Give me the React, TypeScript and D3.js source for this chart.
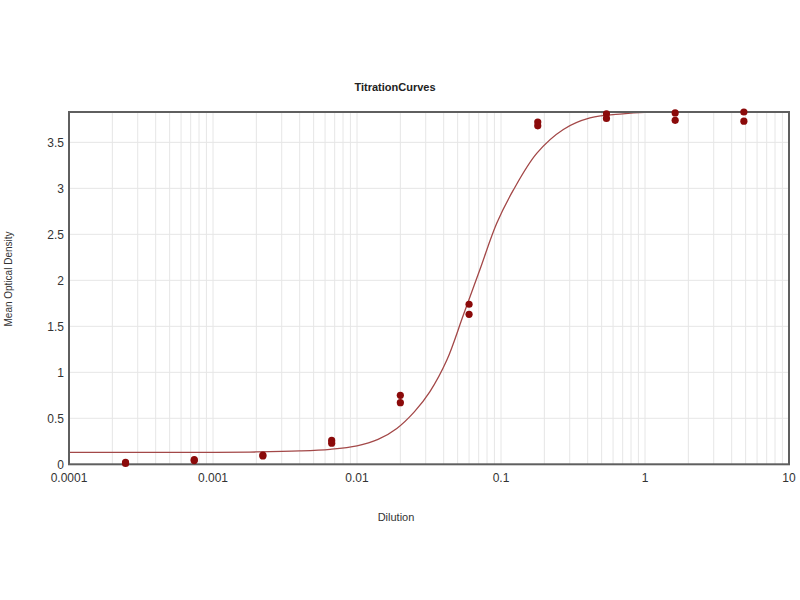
import React from "react";
import * as d3 from "d3";

// Dilution of each sample (3-fold series)
const dilutions = [0.000247, 0.000741, 0.00222, 0.00667, 0.02, 0.06, 0.18, 0.54, 1.62, 4.86];
// Mean optical density, replicate 1 and replicate 2
const replicate1 = [0.01, 0.04, 0.1, 0.26, 0.75, 1.74, 3.72, 3.81, 3.82, 3.83];
const replicate2 = [0.02, 0.05, 0.09, 0.23, 0.67, 1.63, 3.68, 3.76, 3.74, 3.73];

// Fitted titration curve
const curveDilution = [0.0001, 0.0005, 0.001, 0.002, 0.004, 0.0065, 0.01, 0.014, 0.0189, 0.025, 0.0321, 0.042, 0.0547, 0.0715, 0.0934, 0.1217, 0.177, 0.271, 0.415, 0.7, 1.0, 10];
const curveOD = [0.13, 0.13, 0.13, 0.134, 0.145, 0.163, 0.2, 0.27, 0.39, 0.57, 0.79, 1.13, 1.62, 2.12, 2.62, 2.98, 3.38, 3.64, 3.765, 3.81, 3.825, 3.83];

const xTicks = [0.0001, 0.001, 0.01, 0.1, 1, 10];
const xTickLabels = ["0.0001", "0.001", "0.01", "0.1", "1", "10"];
const yTicks = [0, 0.5, 1, 1.5, 2, 2.5, 3, 3.5];
const yTickLabels = ["0", "0.5", "1", "1.5", "2", "2.5", "3", "3.5"];

const title = "TitrationCurves";
const xTitle = "Dilution";
const yTitle = "Mean Optical Density";

export default function App() {
  const W = 800, H = 600;
  const left = 69, right = 789, top = 112, bottom = 464.3;
  const x = d3.scaleLog().domain([0.0001, 10]).range([left, right]);
  const y = d3.scaleLinear().domain([0, 3.83]).range([bottom, top]);

  // minor grid: 1..9 × each decade
  const minor: number[] = [];
  for (let e = -4; e < 1; e++) {
    for (let k = 2; k <= 9; k++) minor.push(k * Math.pow(10, e));
  }
  const majorInner = xTicks.slice(1, -1);

  const line = d3
    .line<number>()
    .x((_, i) => x(curveDilution[i]))
    .y((d) => y(d))
    .curve(d3.curveCatmullRom.alpha(0.5));

  const font = "Arial, 'Liberation Sans', sans-serif";

  return (
    <svg width={W} height={H} style={{ position: "absolute", left: 0, top: 0, background: "#fff" }} fontFamily={font}>
      <defs>
        <clipPath id="plot">
          <rect x={left} y={top} width={right - left} height={bottom - top} />
        </clipPath>
      </defs>
      {/* grid */}
      <g stroke="#e6e6e6" strokeWidth={1}>
        {yTicks.slice(1).map((t) => (
          <line key={"h" + t} x1={left} x2={right} y1={y(t)} y2={y(t)} />
        ))}
        {minor.map((t) => (
          <line key={"m" + t} x1={x(t)} x2={x(t)} y1={top} y2={bottom} />
        ))}
        {majorInner.map((t) => (
          <line key={"M" + t} x1={x(t)} x2={x(t)} y1={top} y2={bottom} />
        ))}
      </g>
      {/* curve */}
      <path d={line(curveOD) || ""} fill="none" stroke="#a34848" strokeWidth={1.3} clipPath="url(#plot)" />
      {/* frame */}
      <rect x={left} y={top} width={right - left} height={bottom - top} fill="none" stroke="#5f5f5f" strokeWidth={2} />
      {/* points */}
      <g fill="#8b0a0a">
        {dilutions.map((d, i) => (
          <circle key={"a" + i} cx={x(d)} cy={y(replicate1[i])} r={3.6} />
        ))}
        {dilutions.map((d, i) => (
          <circle key={"b" + i} cx={x(d)} cy={y(replicate2[i])} r={3.6} />
        ))}
      </g>
      {/* y ticks */}
      <g fontSize={12} fill="#333" textAnchor="end">
        {yTicks.map((t, i) => (
          <text key={"y" + t} x={left - 5} y={y(t)} dy="0.35em">
            {yTickLabels[i]}
          </text>
        ))}
      </g>
      {/* x ticks */}
      <g fontSize={12} fill="#333" textAnchor="middle">
        {xTicks.map((t, i) => (
          <text key={"x" + t} x={x(t)} y={bottom + 13} dy="0.35em">
            {xTickLabels[i]}
          </text>
        ))}
      </g>
      <text x={395} y={87} dy="0.35em" textAnchor="middle" fontSize={11} fontWeight="bold" fill="#222">
        {title}
      </text>
      <text x={396} y={517} dy="0.35em" textAnchor="middle" fontSize={11} fill="#333">
        {xTitle}
      </text>
      <text
        transform={`translate(8,279) rotate(-90)`}
        dy="0.35em"
        textAnchor="middle"
        fontSize={10}
        fill="#333"
      >
        {yTitle}
      </text>
    </svg>
  );
}
